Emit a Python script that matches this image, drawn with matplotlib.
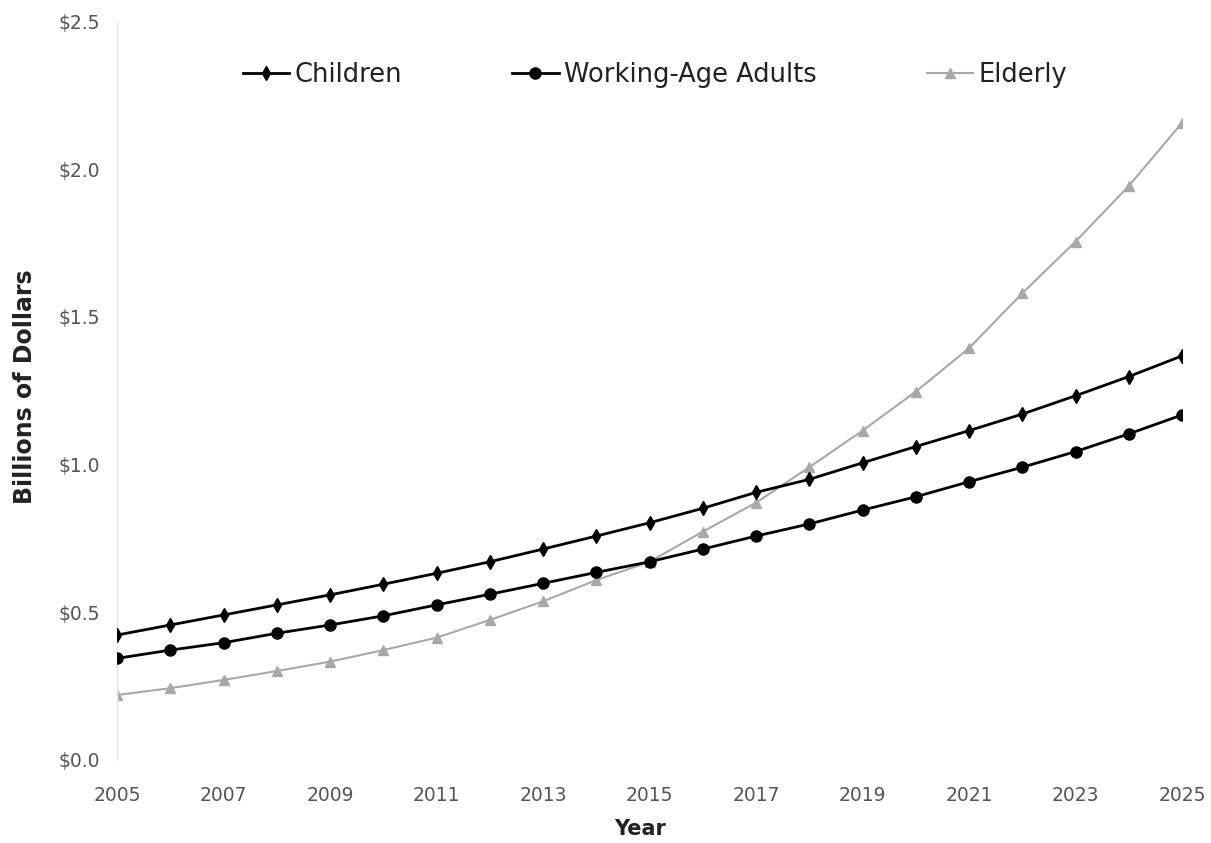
import matplotlib
matplotlib.use("Agg")
import matplotlib.pyplot as plt
from matplotlib.ticker import FuncFormatter, MultipleLocator

years = list(range(2005, 2026))
children = [0.423, 0.457, 0.491, 0.525, 0.559, 0.595, 0.632, 0.671, 0.714, 0.758, 0.803,
            0.852, 0.906, 0.950, 1.006, 1.061, 1.115, 1.171, 1.233, 1.298, 1.368]
working_age = [0.344, 0.372, 0.397, 0.429, 0.457, 0.488, 0.525, 0.561, 0.598, 0.635, 0.671,
               0.714, 0.758, 0.799, 0.846, 0.891, 0.942, 0.991, 1.044, 1.104, 1.168]
elderly = [0.220, 0.243, 0.271, 0.301, 0.333, 0.372, 0.414, 0.474, 0.537, 0.609, 0.671,
           0.773, 0.871, 0.991, 1.115, 1.247, 1.394, 1.580, 1.755, 1.943, 2.157]
xticks = list(range(2005, 2026, 2))

plt.rcParams['font.family'] = ['DejaVu Sans']

fig = plt.figure(figsize=(12.11, 8.43), dpi=100)
ax = fig.add_axes([117/1211, 1-760/843, (1182-117)/1211, (760-21.5)/843])

ax.plot(years, elderly, color='#a8a8a8', lw=1.5, marker='^', ms=6.5,
        mfc='#a8a8a8', mec='#a8a8a8', label='Elderly', zorder=2)
ax.plot(years, children, color='black', lw=2, marker='d', ms=7.5,
        label='Children', zorder=3)
ax.plot(years, working_age, color='black', lw=2, marker='o', ms=8,
        label='Working-Age Adults', zorder=3)

ax.set_xlim(2005, 2025)
ax.set_ylim(0, 2.5)
ax.set_xticks(xticks)
ax.yaxis.set_major_locator(MultipleLocator(0.5))
ax.yaxis.set_major_formatter(FuncFormatter(lambda v, p: f"${v:.1f}"))
ax.tick_params(axis='both', length=0, labelsize=13.5, colors='#555555')
ax.tick_params(axis='x', pad=19)
ax.tick_params(axis='y', pad=12)

for s in ['top', 'right', 'bottom']:
    ax.spines[s].set_visible(False)
ax.spines['left'].set_color('#e6e6e6')
ax.spines['left'].set_linewidth(1)

ax.set_xlabel('Year', fontsize=15, fontweight='bold', color='#222222')
ax.xaxis.set_label_coords(0.491, -0.080)
ax.set_ylabel('Billions of Dollars', fontsize=17, fontweight='bold', color='#222222')
ax.yaxis.set_label_coords(-0.075, 0.505)

handles, labels = ax.get_legend_handles_labels()
order = [1, 2, 0]
leg = ax.legend([handles[i] for i in order], [labels[i] for i in order],
                loc='center', bbox_to_anchor=((655-117)/1065, (760-75)/738.5),
                ncol=3, frameon=False, fontsize=18.5, handlelength=1.8,
                handletextpad=0.2, columnspacing=4.3, markerscale=1.0)
for t in leg.get_texts():
    t.set_color('#222222')

fig.savefig('out.png', dpi=100, facecolor='white')
